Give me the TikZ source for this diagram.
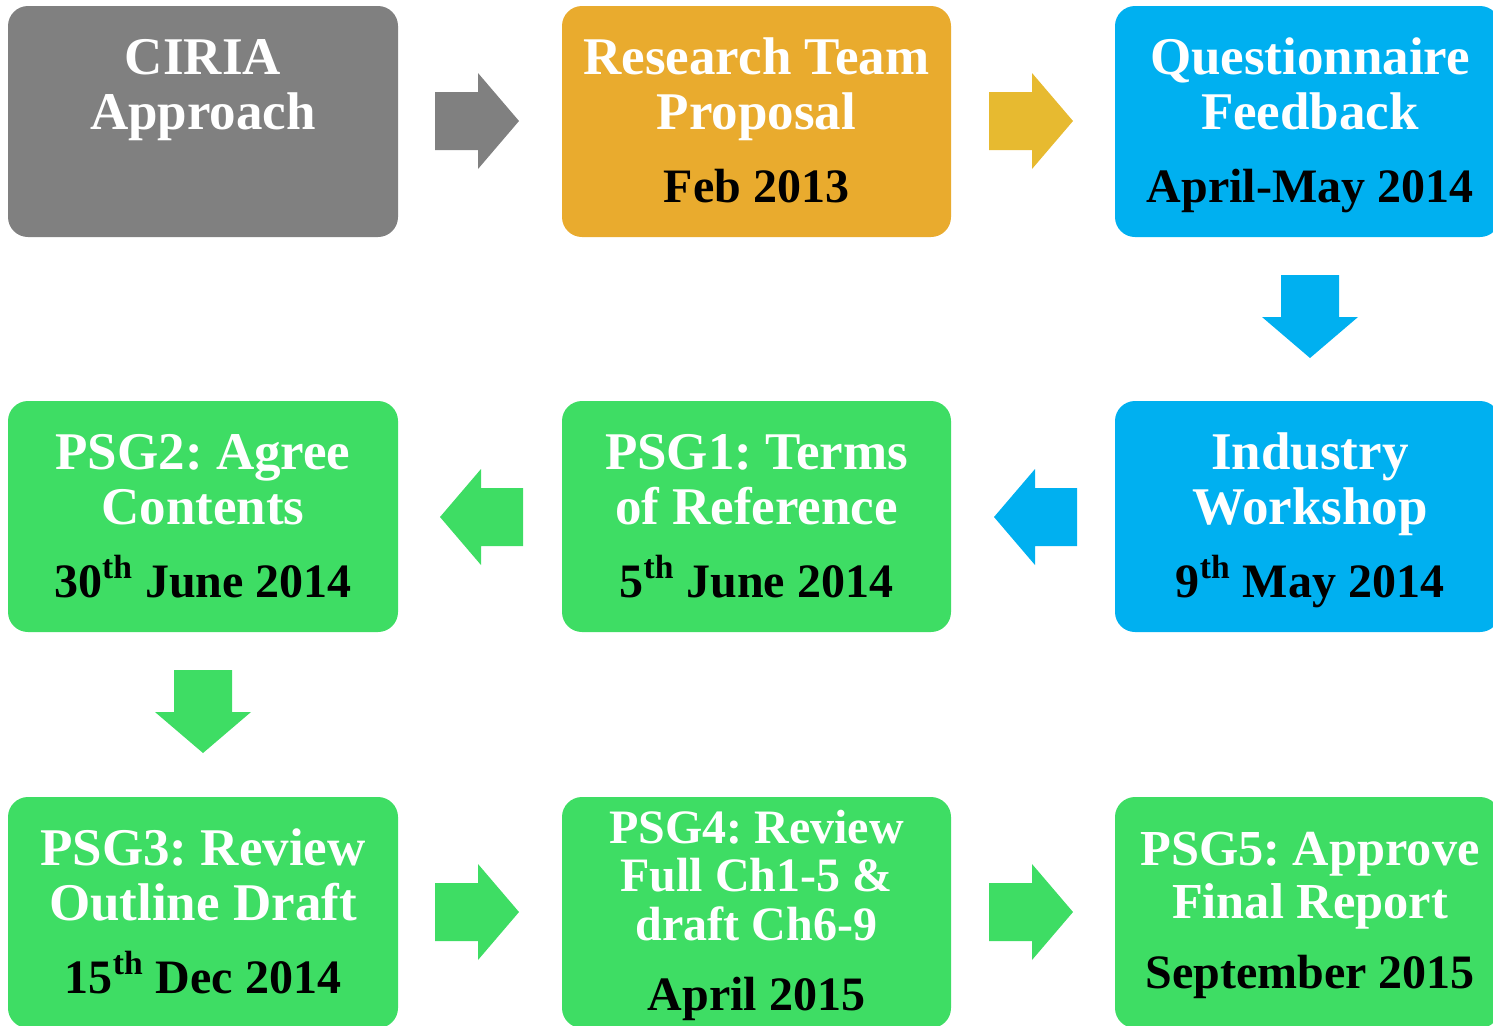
\documentclass[tikz,border=0pt]{standalone}
\usepackage{fontspec}
\setmainfont{Liberation Serif}
\frenchspacing
\definecolor{boxgray}{HTML}{808080}
\definecolor{boxorange}{HTML}{E9AB2E}
\definecolor{arrorange}{HTML}{E7BA30}
\definecolor{boxblue}{HTML}{00B0F0}
\definecolor{boxgreen}{HTML}{3EDD64}
\begin{document}
\begin{tikzpicture}[x=0.5pt,y=-0.5pt,
  box/.style={rounded corners=10pt, inner sep=0pt, draw=none, minimum height=115.5pt},
  ttl/.style={anchor=base, text=white, inner sep=0pt, font=\bfseries\fontsize{26.5}{26.5}\selectfont},
  ttlmd/.style={anchor=base, text=white, inner sep=0pt, font=\bfseries\fontsize{25.2}{25.2}\selectfont},
  ttlsm/.style={anchor=base, text=white, inner sep=0pt, font=\bfseries\fontsize{24}{24}\selectfont},
  dt/.style={anchor=base, text=black, inner sep=0pt, font=\bfseries\fontsize{24}{24}\selectfont},
  pics/rarrow/.style={code={\fill[#1] (0,-29) -- (43,-29) -- (43,-48) -- (84,0) -- (43,48) -- (43,29) -- (0,29) -- cycle;}},
  pics/larrow/.style={code={\fill[#1] (0,0) -- (41,-48) -- (41,-29) -- (83,-29) -- (83,29) -- (41,29) -- (41,48) -- cycle;}},
  pics/darrow/.style={code={\fill[#1] (-29,0) -- (29,0) -- (29,42) -- (48,42) -- (0,83) -- (-48,42) -- (-29,42) -- cycle;}}
]
\useasboundingbox (0,0) rectangle (1493,1025);

% boxes
\node[box, fill=boxgray,   minimum width=195pt]   (ciria) at (203,121.5) {};
\node[box, fill=boxorange, minimum width=194.5pt] (prop)  at (756.5,121.5) {};
\node[box, fill=boxblue,   minimum width=192.5pt] (quest) at (1307.5,121.5) {};
\node[box, fill=boxgreen,  minimum width=195pt]   (psg2)  at (203,516.5) {};
\node[box, fill=boxgreen,  minimum width=194.5pt] (psg1)  at (756.5,516.5) {};
\node[box, fill=boxblue,   minimum width=192.5pt] (work)  at (1307.5,516.5) {};
\node[box, fill=boxgreen,  minimum width=195pt]   (psg3)  at (203,912.5) {};
\node[box, fill=boxgreen,  minimum width=194.5pt] (psg4)  at (756.5,912.5) {};
\node[box, fill=boxgreen,  minimum width=192.5pt] (psg5)  at (1307.5,912.5) {};

% row 1 texts
\node[ttl] (t1a) at (203,74) {CIRIA};
\node[ttl] (t1b) at (203,129) {Approach};
\node[ttl] (t2a) at (756.5,74) {Research Team};
\node[ttl] (t2b) at (756.5,129) {Proposal};
\node[dt]  (t2c) at (756.5,202) {Feb 2013};
\node[ttl] (t3a) at (1310,74) {Questionnaire};
\node[ttl] (t3b) at (1310,129) {Feedback};
\node[dt]  (t3c) at (1310,202) {April-May 2014};

% row 2 texts
\node[ttl] (t4a) at (203,469) {PSG2: Agree};
\node[ttl] (t4b) at (203,524) {Contents};
\node[dt]  (t4c) at (203,597) {30\textsuperscript{th} June 2014};
\node[ttl] (t5a) at (756.5,469) {PSG1: Terms};
\node[ttl] (t5b) at (756.5,524) {of Reference};
\node[dt]  (t5c) at (756.5,597) {5\textsuperscript{th} June 2014};
\node[ttl] (t6a) at (1310,469) {Industry};
\node[ttl] (t6b) at (1310,524) {Workshop};
\node[dt]  (t6c) at (1310,597) {9\textsuperscript{th} May 2014};

% row 3 texts
\node[ttl] (t7a) at (203,865) {PSG3: Review};
\node[ttl] (t7b) at (203,920) {Outline Draft};
\node[dt]  (t7c) at (203,993) {15\textsuperscript{th} Dec 2014};
\node[ttlsm] (t8a) at (756.5,843) {PSG4: Review};
\node[ttlsm] (t8b) at (756.5,891) {Full Ch1-5 \&};
\node[ttlsm] (t8c) at (756.5,940) {draft Ch6-9};
\node[dt]    (t8d) at (756.5,1010) {April 2015};
\node[ttlmd] (t9a) at (1310,865) {PSG5: Approve};
\node[ttlmd] (t9b) at (1310,918) {Final Report};
\node[dt]    (t9c) at (1310,988) {September 2015};

% block arrows between the steps
\pic at (435,121) {rarrow=boxgray};
\pic at (989,121) {rarrow=arrorange};
\pic at (1310,275) {darrow=boxblue};
\pic at (994,517) {larrow=boxblue};
\pic at (440,517) {larrow=boxgreen};
\pic at (203,670) {darrow=boxgreen};
\pic at (435,912) {rarrow=boxgreen};
\pic at (989,912) {rarrow=boxgreen};
\end{tikzpicture}
\end{document}
